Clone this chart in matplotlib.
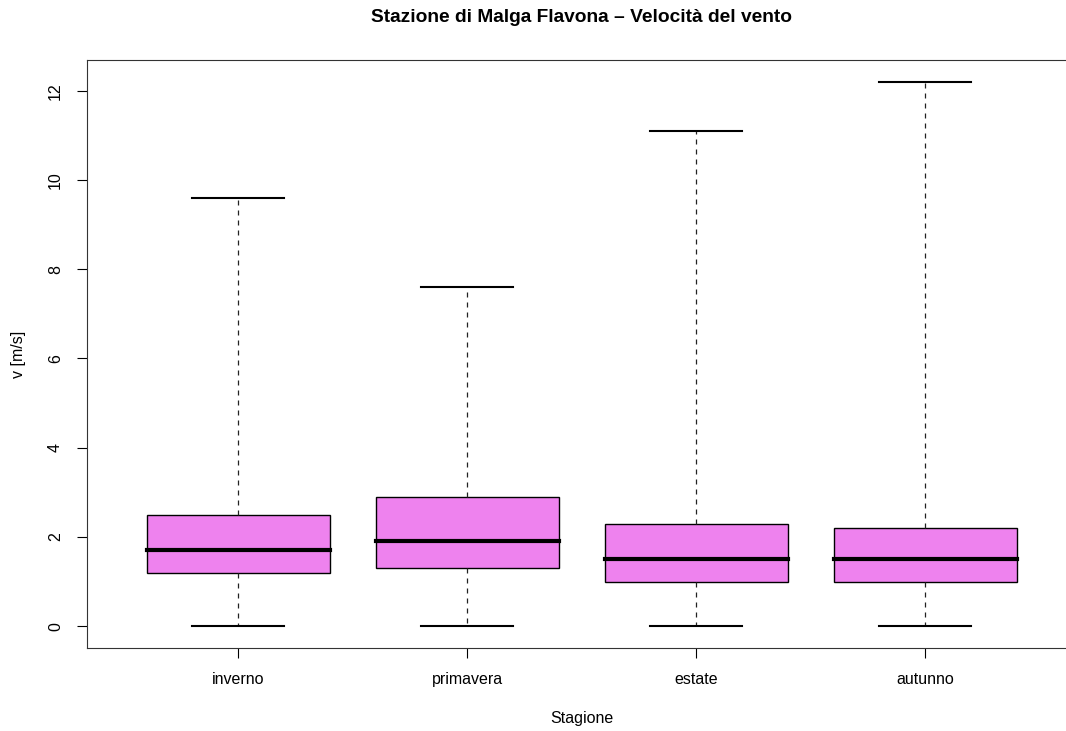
import matplotlib
matplotlib.use("Agg")
import matplotlib.pyplot as plt

plt.rcParams['font.family'] = ['Liberation Sans', 'DejaVu Sans']

seasons = ["inverno", "primavera", "estate", "autunno"]
whislo = [0.0, 0.0, 0.0, 0.0]
q1 = [1.2, 1.3, 1.0, 1.0]
med = [1.7, 1.9, 1.5, 1.5]
q3 = [2.5, 2.9, 2.3, 2.2]
whishi = [9.6, 7.6, 11.1, 12.2]
yticks = [0, 2, 4, 6, 8, 10, 12]

W, H = 1066, 731
fig = plt.figure(figsize=(W / 100, H / 100), dpi=100)
# plot region (pixels): left 87, top 60, bottom 648, right edge runs past the image
left, top, bottom = 87, 60, 648
width = 4.32 * 229
ax = fig.add_axes([left / W, (H - bottom) / H, width / W, (bottom - top) / H])

stats = []
for i, s in enumerate(seasons):
    stats.append(dict(label=s, whislo=whislo[i], q1=q1[i], med=med[i],
                      q3=q3[i], whishi=whishi[i], fliers=[]))

ax.bxp(stats, positions=[1, 2, 3, 4], widths=0.8, patch_artist=True,
       showfliers=False,
       boxprops=dict(facecolor="#EE82EE", edgecolor="black", linewidth=1.0),
       medianprops=dict(color="black", linewidth=3.0, solid_capstyle="projecting"),
       whiskerprops=dict(color="#222222", linewidth=0.9, linestyle=(0, (4, 4))),
       capprops=dict(color="black", linewidth=1.5),
       capwidths=0.4)

ymin, ymax = 0, max(whishi)
pad = 0.04 * (ymax - ymin)
ax.set_ylim(ymin - pad, ymax + pad)
ax.set_xlim(0.34, 4.66)

ax.set_yticks(yticks)
ax.set_yticklabels([str(v) for v in yticks], rotation=90, va="center")
ax.set_xticks([1, 2, 3, 4])
ax.set_xticklabels(seasons)
ax.tick_params(axis="both", length=7.2, width=0.8, pad=10, labelsize=11.5,
               colors="black")
for sp in ax.spines.values():
    sp.set_linewidth(0.8)
    sp.set_color("#333333")
ax.spines["right"].set_visible(False)

cx = (left + left + width) / 2 / W
fig.text(cx, 1 - 17 / H, "Stazione di Malga Flavona \u2013 Velocit\u00e0 del vento",
         ha="center", va="center", fontsize=13.8, fontweight="bold")
fig.text(cx, 1 - 718 / H, "Stagione", ha="center", va="center", fontsize=11.5)
fig.text(19 / W, (H - 354) / H, "v [m/s]", ha="center", va="center",
         rotation=90, fontsize=11.5)

fig.savefig("out.png", dpi=100)
